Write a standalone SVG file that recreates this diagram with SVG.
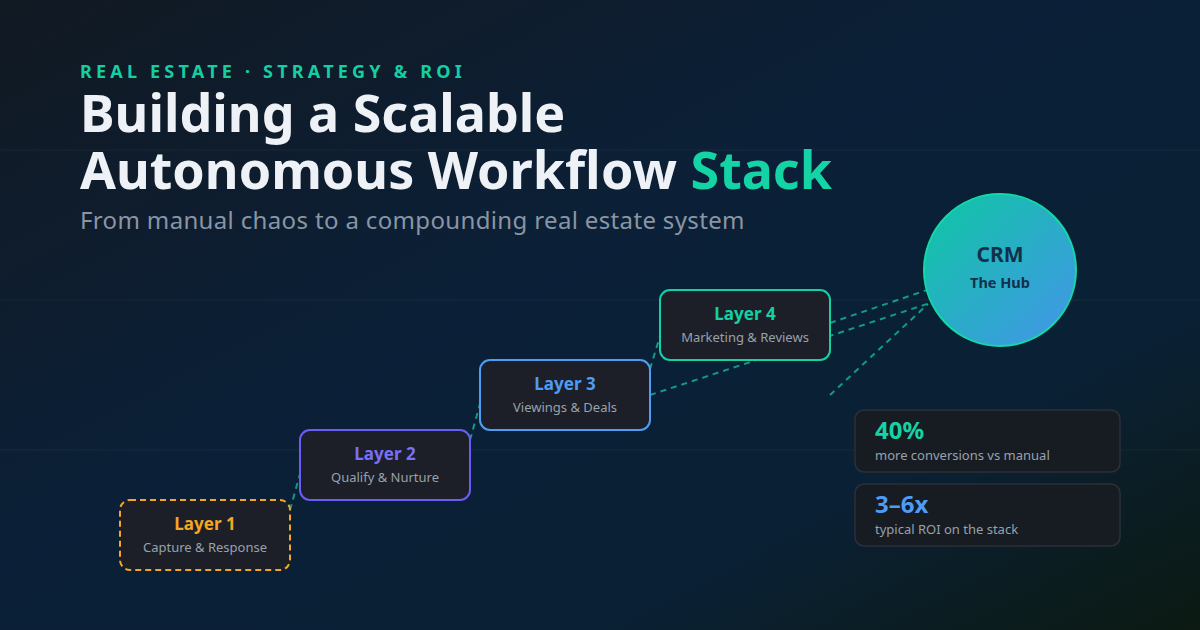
<svg xmlns="http://www.w3.org/2000/svg" width="1200" height="630" viewBox="0 0 1200 630">
<defs>
<linearGradient id="bg" x1="0" y1="0" x2="1" y2="1">
<stop offset="0" stop-color="#111922"/>
<stop offset="0.45" stop-color="#0b2038"/>
<stop offset="0.75" stop-color="#0a2034"/>
<stop offset="1" stop-color="#0c1a12"/>
</linearGradient>
<linearGradient id="hub" x1="0" y1="0" x2="1" y2="1">
<stop offset="0" stop-color="#0dc7a2"/>
<stop offset="1" stop-color="#4494ea"/>
</linearGradient>
<style>
.sans{font-family:"Noto Sans","Open Sans","DejaVu Sans",sans-serif}
.node rect{fill:#1c1f27;stroke-width:2}
.nt{font-size:17px;font-weight:700;text-anchor:middle}
.ns{font-size:13px;fill:#98a1ad;text-anchor:middle}
.conn line{stroke:#13b99b;stroke-width:2;stroke-dasharray:6 5;opacity:0.8}
.card rect{fill:#171b22;stroke:#2b3039;stroke-width:1.5}
.big{font-size:24px;font-weight:700}
.cs{font-size:13px;fill:#98a1ad}
.grid{stroke:#ffffff;stroke-opacity:0.035;stroke-width:1.5}
</style>
</defs>
<rect width="1200" height="630" fill="url(#bg)"/>
<line class="grid" x1="0" y1="150" x2="1200" y2="150"/>
<line class="grid" x1="0" y1="300" x2="1200" y2="300"/>
<line class="grid" x1="0" y1="450" x2="1200" y2="450"/>

<text class="sans" x="80" y="78" font-size="18" font-weight="700" letter-spacing="4.2" fill="#14cfa2">REAL ESTATE · STRATEGY &amp; ROI</text>
<text class="sans" x="80" y="132" font-size="52" font-weight="700" fill="#eef2f7">Building a Scalable</text>
<text class="sans" x="80" y="189" font-size="52" font-weight="700" fill="#eef2f7">Autonomous Workflow <tspan fill="#14d3a5">Stack</tspan></text>
<text class="sans" x="80" y="229" font-size="24" letter-spacing="0.35" fill="#8a95a3">From manual chaos to a compounding real estate system</text>

<g id="connectors" class="conn">
<line x1="290" y1="510" x2="300" y2="474"/>
<line x1="470" y1="440" x2="480" y2="404"/>
<line x1="650" y1="369" x2="660" y2="336"/>
<line x1="830" y1="323" x2="927" y2="290"/>
<line x1="650" y1="395" x2="930" y2="303"/>
<line x1="830" y1="395" x2="928" y2="304"/>
</g>

<g id="layer1" class="node">
<rect x="120" y="500" width="170" height="70" rx="10" stroke="#f5a623" stroke-dasharray="6 4"/>
<text class="sans nt" x="205" y="530" fill="#f5a623">Layer 1</text>
<text class="sans ns" x="205" y="552">Capture &amp; Response</text>
</g>
<g id="layer2" class="node">
<rect x="300" y="430" width="170" height="70" rx="10" stroke="#6a5cf6"/>
<text class="sans nt" x="385" y="460" fill="#7b6ff7">Layer 2</text>
<text class="sans ns" x="385" y="482">Qualify &amp; Nurture</text>
</g>
<g id="layer3" class="node">
<rect x="480" y="360" width="170" height="70" rx="10" stroke="#4f9cf5"/>
<text class="sans nt" x="565" y="390" fill="#4f9cf5">Layer 3</text>
<text class="sans ns" x="565" y="412">Viewings &amp; Deals</text>
</g>
<g id="layer4" class="node">
<rect x="660" y="290" width="170" height="70" rx="10" stroke="#13d1a3"/>
<text class="sans nt" x="745" y="320" fill="#13d1a3">Layer 4</text>
<text class="sans ns" x="745" y="342">Marketing &amp; Reviews</text>
</g>

<g id="crm">
<circle cx="1000" cy="270" r="76" fill="url(#hub)" stroke="#14d8a6" stroke-width="2"/>
<text class="sans" x="1000" y="262" font-size="21" font-weight="700" fill="#12304a" text-anchor="middle">CRM</text>
<text class="sans" x="1000" y="288" font-size="14.5" font-weight="700" fill="#12304a" text-anchor="middle">The Hub</text>
</g>

<g id="stat1" class="card">
<rect x="855" y="410" width="265" height="62" rx="9"/>
<text class="sans big" x="875" y="439" fill="#14d3a5">40%</text>
<text class="sans cs" x="875" y="460">more conversions vs manual</text>
</g>
<g id="stat2" class="card">
<rect x="855" y="484" width="265" height="62" rx="9"/>
<text class="sans big" x="875" y="513" fill="#4f9cf5">3–6x</text>
<text class="sans cs" x="875" y="534">typical ROI on the stack</text>
</g>
</svg>
